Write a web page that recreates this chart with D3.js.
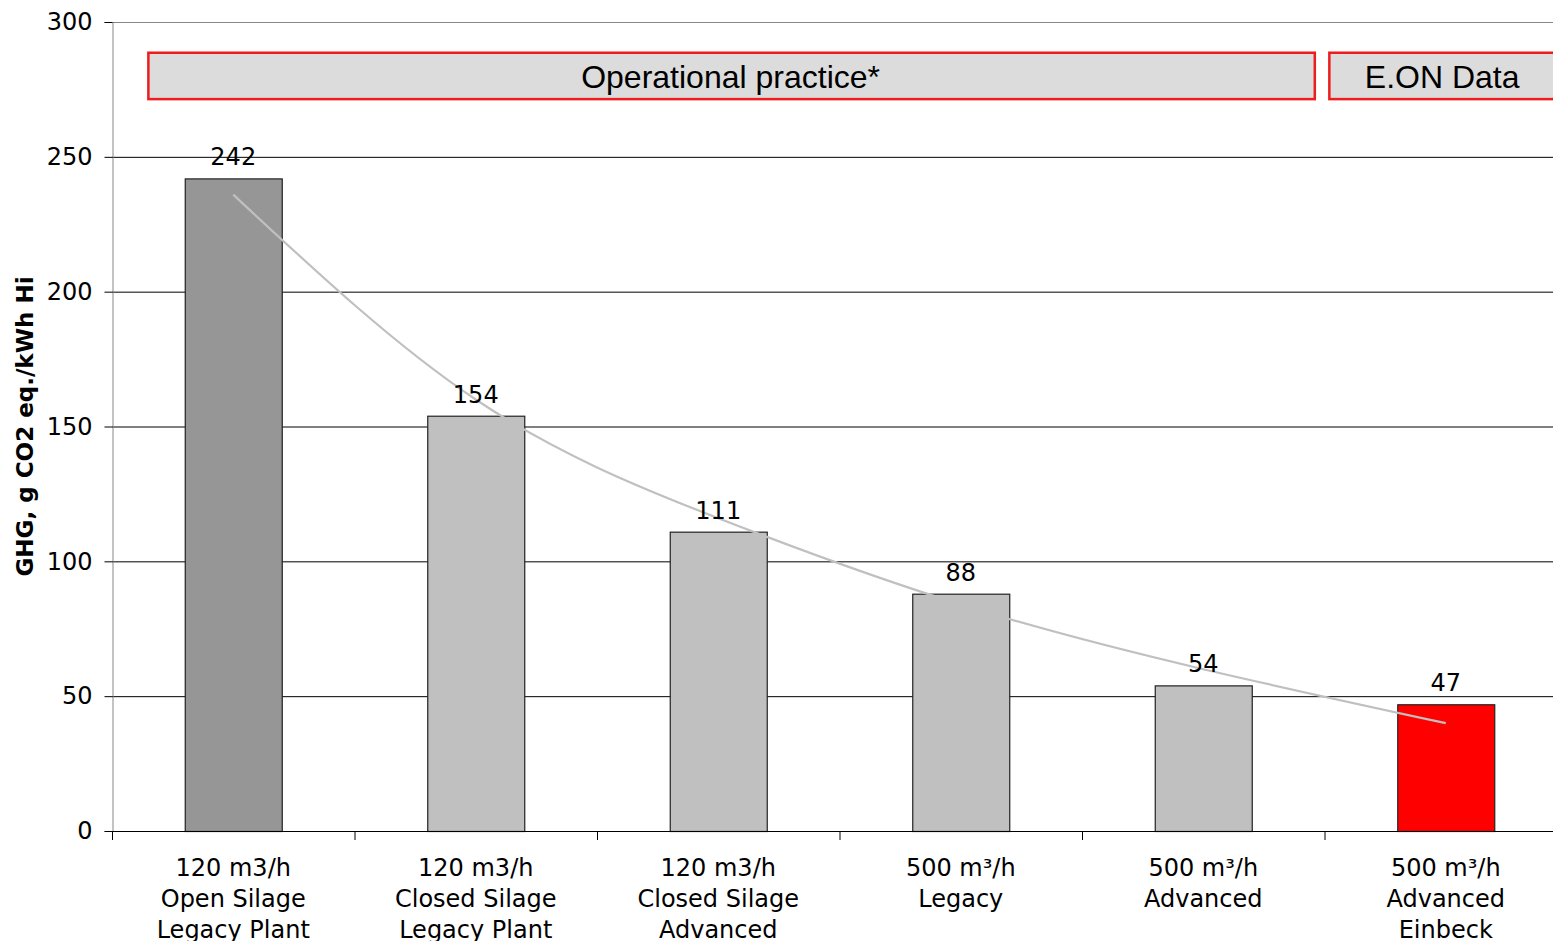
<!DOCTYPE html>
<html><head><meta charset="utf-8">
<script src="https://cdn.jsdelivr.net/npm/d3@7"></script>
<style>body{margin:0;background:#fff;overflow:hidden}svg{display:block}</style>
</head><body>
<svg id="c" width="1553" height="941"></svg>
<script>
const categories = [
  ["120 m3/h","Open Silage","Legacy Plant"],
  ["120 m3/h","Closed Silage","Legacy Plant"],
  ["120 m3/h","Closed Silage","Advanced"],
  ["500 m³/h","Legacy"],
  ["500 m³/h","Advanced"],
  ["500 m³/h","Advanced","Einbeck"]
];
const values = [242, 154, 111, 88, 54, 47];
const barColors = ["#969696","#c0c0c0","#c0c0c0","#c0c0c0","#c0c0c0","#ff0000"];
const trendValues = [236, 160, 116, 84, 60, 40];
const yTicks = [0, 50, 100, 150, 200, 250, 300];
const yTitle = "GHG, g CO2 eq./kWh Hi";
const boxes = [
  {label:"Operational practice*", from:0.15, to:4.96},
  {label:"E.ON Data", from:5.02, to:6.2}
];
const boxRange = [271.4, 288.6];

(function(){
const svg = d3.select("#c");
const pL = 112, pR = 1567, pT = 22, pB = 831;
const x = d3.scaleBand().domain(d3.range(categories.length)).range([pL, pR]).paddingInner(0.6).paddingOuter(0.3);
const xl = d3.scaleLinear().domain([0, categories.length]).range([pL, pR]);
const y = d3.scaleLinear().domain([0, 300]).range([pB, pT]);
const font = "'DejaVu Sans', Verdana, sans-serif";

// gridlines
svg.append("g").selectAll("line").data(yTicks.filter(d=>d>0)).join("line")
  .attr("x1", pL).attr("x2", 1553).attr("y1", d=>y(d)+0.5).attr("y2", d=>y(d)+0.5)
  .attr("stroke", d=> d===300 ? "#888" : "#000").attr("stroke-width", 1);

// y axis
const ya = svg.append("g").attr("transform", `translate(${pL+0.5},0)`)
  .call(d3.axisLeft(y).tickValues(yTicks).tickSize(8).tickPadding(12));
ya.select(".domain").attr("stroke", "#888");
ya.selectAll(".tick line").attr("stroke", "#000");
ya.selectAll("text").attr("font-family", font).attr("font-size", 24).attr("fill", "#000");

// boxes
const bg = svg.append("g").selectAll("g").data(boxes).join("g");
bg.append("rect").attr("x", d=>xl(d.from)).attr("width", d=>xl(d.to)-xl(d.from))
  .attr("y", y(boxRange[1])).attr("height", y(boxRange[0])-y(boxRange[1]))
  .attr("fill", "#dcdcdc").attr("stroke", "#ee1c1c").attr("stroke-width", 2.5);
bg.append("text").attr("x", d=> d.to > 6 ? (xl(d.from)+1553)/2 + 1 : (xl(d.from)+xl(d.to))/2 - 1)
  .attr("y", (y(boxRange[0])+y(boxRange[1]))/2 + 12)
  .attr("text-anchor","middle").attr("font-family","'Liberation Sans', Arial, sans-serif")
  .attr("font-size", 32).attr("fill","#000").text(d=>d.label);

// bars
svg.append("g").selectAll("rect").data(values).join("rect")
  .attr("x", (d,i)=>x(i)+0.5).attr("width", x.bandwidth())
  .attr("y", d=>y(d)+0.5).attr("height", d=>y(0)-y(d))
  .attr("fill", (d,i)=>barColors[i]).attr("stroke", "#222").attr("stroke-width", 1.2);

// trend line
const line = d3.line().x((d,i)=>x(i)+x.bandwidth()/2).y(d=>y(d)).curve(d3.curveNatural);
svg.append("path").datum(trendValues).attr("d", line)
  .attr("fill","none").attr("stroke","#c0c0c0").attr("stroke-width", 2.2);

// value labels
svg.append("g").selectAll("text").data(values).join("text")
  .attr("x", (d,i)=>x(i)+x.bandwidth()/2).attr("y", d=>y(d)-13)
  .attr("text-anchor","middle").attr("font-family", font).attr("font-size", 24).attr("fill","#000")
  .text(d=>d);

// x axis
svg.append("line").attr("x1", pL).attr("x2", 1553).attr("y1", pB+0.5).attr("y2", pB+0.5).attr("stroke","#000");
svg.append("g").selectAll("line").data(d3.range(categories.length+1)).join("line")
  .attr("x1", d=>xl(d)+0.5).attr("x2", d=>xl(d)+0.5).attr("y1", pB).attr("y2", pB+9).attr("stroke","#000");
const cl = svg.append("g").selectAll("text").data(categories).join("text")
  .attr("text-anchor","middle").attr("font-family", font).attr("font-size", 24).attr("fill","#000");
cl.each(function(d,i){
  const t = d3.select(this);
  d.forEach((s,j)=>t.append("tspan").attr("x", x(i)+x.bandwidth()/2).attr("y", 876 + j*31).text(s));
});

// y title
svg.append("text").attr("transform", `translate(33,${(y(0)+y(300))/2}) rotate(-90)`)
  .attr("text-anchor","middle").attr("font-family", font).attr("font-weight","bold").attr("font-size", 23)
  .attr("fill","#000").text(yTitle);
})();
</script>
</body></html>
